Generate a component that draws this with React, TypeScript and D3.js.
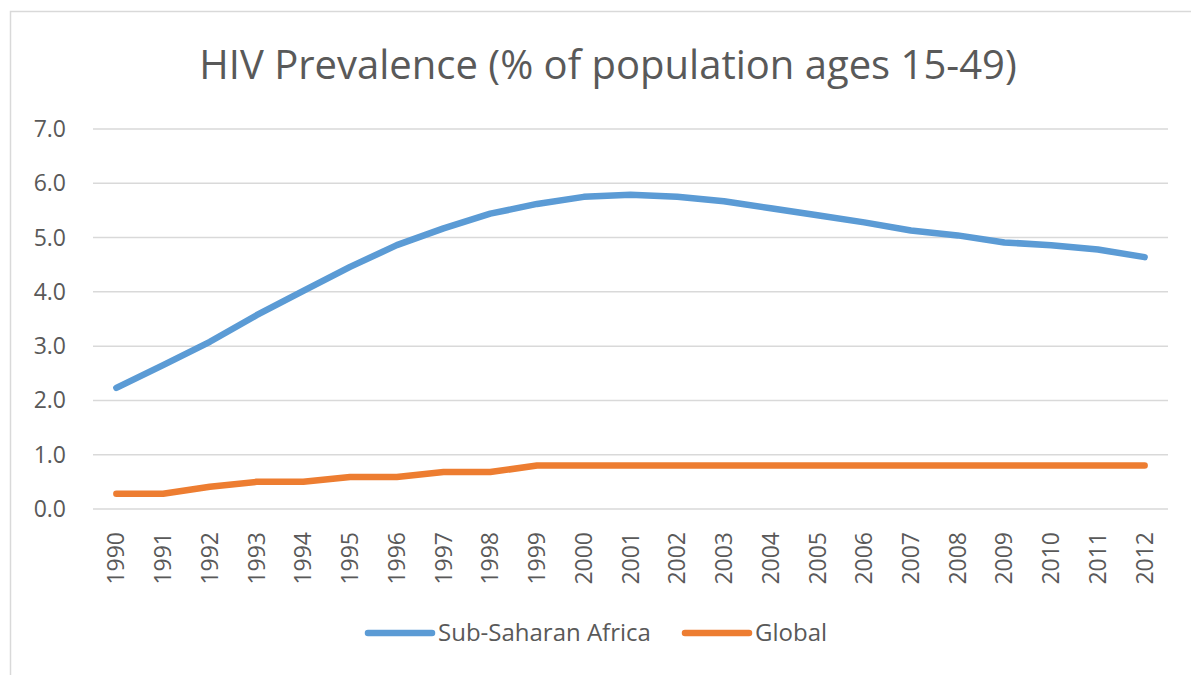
import * as d3 from "d3";
import React, { RefObject, useEffect, useRef } from "react";

const years = [
  "1990", "1991", "1992", "1993", "1994", "1995", "1996", "1997", "1998", "1999", "2000",
  "2001", "2002", "2003", "2004", "2005", "2006", "2007", "2008", "2009", "2010", "2011", "2012",
];
const subSaharan = [
  2.23, 2.65, 3.08, 3.57, 4.02, 4.46, 4.86, 5.17, 5.44, 5.62, 5.75,
  5.79, 5.75, 5.67, 5.54, 5.41, 5.28, 5.13, 5.04, 4.91, 4.86, 4.78, 4.64,
];
const global = [
  0.28, 0.28, 0.41, 0.5, 0.5, 0.59, 0.59, 0.68, 0.68, 0.8, 0.8,
  0.8, 0.8, 0.8, 0.8, 0.8, 0.8, 0.8, 0.8, 0.8, 0.8, 0.8, 0.8,
];
const yTicks = [0, 1, 2, 3, 4, 5, 6, 7];
const seriesNames = ["Sub-Saharan Africa", "Global"];
const title = "HIV Prevalence (% of population ages 15-49)";

const width = 1191;
const height = 675;
const colors = ["#5b9bd5", "#ed7d31"];
const textColor = "#595959";
const font = "Open Sans, Lato, sans-serif";

const App = () => {
  const d3Ref: RefObject<HTMLDivElement> = useRef(null);

  const drawChart = () => {
    d3.select(d3Ref.current).selectAll("*").remove();
    const svg = d3
      .select(d3Ref.current)
      .append("svg")
      .attr("width", width)
      .attr("height", height)
      .style("position", "absolute")
      .style("left", "0px")
      .style("top", "0px")
      .style("font-family", font);

    svg.append("rect").attr("width", width).attr("height", height).attr("fill", "white");
    // chart frame
    svg
      .append("rect")
      .attr("x", 10.5)
      .attr("y", 11.5)
      .attr("width", 1250)
      .attr("height", 700)
      .attr("fill", "none")
      .attr("stroke", "#d9d9d9")
      .attr("stroke-width", 1.5);

    const xScale = d3.scaleBand().domain(years).range([93, 1168]);
    const yScale = d3.scaleLinear().domain([0, 7]).range([509, 129]);
    const xc = (d: string) => (xScale(d) as number) + xScale.bandwidth() / 2;

    svg
      .append("text")
      .attr("x", 608)
      .attr("y", 79)
      .attr("text-anchor", "middle")
      .attr("fill", textColor)
      .attr("font-size", 40)
      .text(title);

    // gridlines
    svg
      .append("g")
      .selectAll("line")
      .data(yTicks)
      .enter()
      .append("line")
      .attr("x1", 93)
      .attr("x2", 1168)
      .attr("y1", (d) => yScale(d))
      .attr("y2", (d) => yScale(d))
      .attr("stroke", "#d9d9d9")
      .attr("stroke-width", 1.5);

    svg
      .append("g")
      .selectAll("text")
      .data(yTicks)
      .enter()
      .append("text")
      .attr("x", 66)
      .attr("y", (d) => yScale(d))
      .attr("dy", "0.35em")
      .attr("text-anchor", "end")
      .attr("fill", textColor)
      .attr("font-size", 23)
      .text((d) => d.toFixed(1));

    svg
      .append("g")
      .selectAll("text")
      .data(years)
      .enter()
      .append("text")
      .attr("transform", (d) => `translate(${xc(d)}, 532) rotate(-90)`)
      .attr("dy", "0.35em")
      .attr("text-anchor", "end")
      .attr("fill", textColor)
      .attr("font-size", 23)
      .text((d) => d);

    [subSaharan, global].forEach((s, i) => {
      svg
        .append("path")
        .datum(s)
        .attr("fill", "none")
        .attr("stroke", colors[i])
        .attr("stroke-width", 6.5)
        .attr("stroke-linecap", "round")
        .attr("stroke-linejoin", "round")
        .attr(
          "d",
          d3.line<number>(
            (d, k) => xc(years[k]),
            (d) => yScale(d)
          )
        );
    });

    // legend
    const legendX = [368, 685];
    seriesNames.forEach((name, i) => {
      const g = svg.append("g").attr("transform", `translate(${legendX[i]}, 633)`);
      g.append("line")
        .attr("x1", 0)
        .attr("x2", 64)
        .attr("stroke", colors[i])
        .attr("stroke-width", 6.5)
        .attr("stroke-linecap", "round");
      g.append("text")
        .attr("x", 70)
        .attr("dy", "0.35em")
        .attr("fill", textColor)
        .attr("font-size", 24)
        .text(name);
    });
  };

  useEffect(() => {
    drawChart();
  }, [d3Ref]);

  return (
    <>
      <div ref={d3Ref} />
    </>
  );
};

export default App;
